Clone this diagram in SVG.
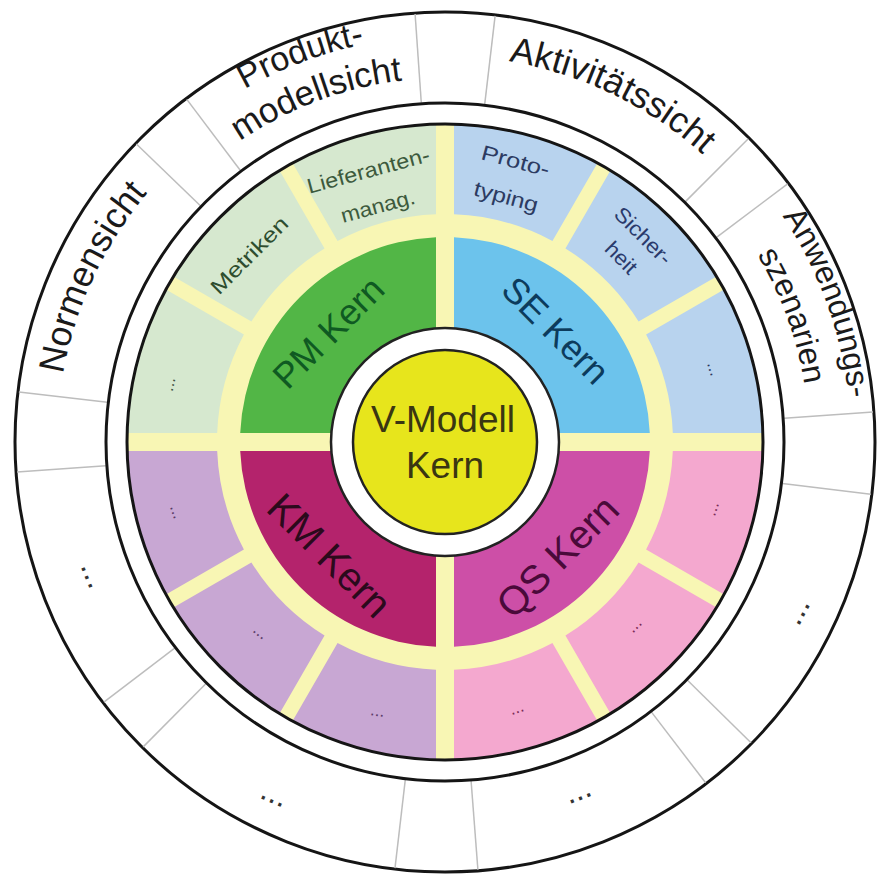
<svg xmlns="http://www.w3.org/2000/svg" width="888" height="877" viewBox="0 0 888 877">
<style>
.ring{fill:#fff;stroke:#151515;stroke-width:3}
.div{stroke:#bdbdbd;stroke-width:1.5;fill:none}
.lbl{font-family:"Liberation Sans",Arial,sans-serif;fill:#1a1a1a;text-anchor:middle}
.sm{font-family:"Liberation Sans",Arial,sans-serif;font-size:21px;text-anchor:middle}
.kern{font-family:"Liberation Sans",Arial,sans-serif;text-anchor:middle}
.dots{font-family:"Liberation Sans",Arial,sans-serif;text-anchor:middle}
.pmS{fill:#d6e8cf}.seS{fill:#b8d3ee}.kmS{fill:#c8a7d3}.qsS{fill:#f4a8cf}
</style>
<defs>
<path id="pNorm" d="M 62.9 509.4 A 388 388 0 0 1 251 106"/>
<path id="pProd1" d="M 110.8 212.3 A 405 405 0 0 1 546.4 49"/>
<path id="pProd2" d="M 144.9 235.9 A 364 364 0 0 1 536.2 89.6"/>
<path id="pAkt" d="M 382.6 61.1 A 386 386 0 0 1 781.6 253.1"/>
<path id="pAnw1" d="M 677.9 109.4 A 406 406 0 0 1 837.2 547.1"/>
<path id="pAnw2" d="M 653.8 143.8 A 364 364 0 0 1 796.6 536.2"/>
</defs>

<rect width="888" height="877" fill="#fff"/>

<g id="outer-ring">
<circle class="ring" cx="445" cy="442" r="430"/>
</g>

<g id="connectors">
<line class="div" x1="107.3" y1="402.3" x2="18.9" y2="391.9"/>
<line class="div" x1="200.4" y1="205.8" x2="136.4" y2="144"/>
<line class="div" x1="240.4" y1="170.5" x2="186.8" y2="99.4"/>
<line class="div" x1="421.3" y1="102.8" x2="415.1" y2="14"/>
<line class="div" x1="484.7" y1="104.3" x2="495.1" y2="15.9"/>
<line class="div" x1="685.4" y1="201.6" x2="748.3" y2="138.7"/>
<line class="div" x1="716.5" y1="237.4" x2="787.6" y2="183.8"/>
<line class="div" x1="784.2" y1="418.3" x2="873" y2="412.1"/>
<line class="div" x1="782.5" y1="483.4" x2="870.8" y2="494.3"/>
<line class="div" x1="687.5" y1="680.3" x2="751" y2="742.7"/>
<line class="div" x1="651.5" y1="712.1" x2="705.6" y2="782.8"/>
<line class="div" x1="471.1" y1="781" x2="477.9" y2="869.7"/>
<line class="div" x1="405.3" y1="779.7" x2="395" y2="868.1"/>
<line class="div" x1="205.8" y1="683.7" x2="143.2" y2="746.9"/>
<line class="div" x1="174.7" y1="648.2" x2="103.9" y2="702.2"/>
<line class="div" x1="105.8" y1="465.7" x2="17" y2="471.9"/>
</g>

<g id="inner-ring">
<circle class="ring" cx="445" cy="442" r="339"/>
<circle cx="445" cy="442" r="318" fill="#f8f6b4"/>
</g>

<g id="view-normensicht">
<text class="lbl" font-size="36"><textPath href="#pNorm" startOffset="50%">Normensicht</textPath></text>
</g>
<g id="view-produktmodellsicht">
<text class="lbl" font-size="34"><textPath href="#pProd1" startOffset="50%">Produkt-</textPath></text>
<text class="lbl" font-size="35"><textPath href="#pProd2" startOffset="50%">modellsicht</textPath></text>
</g>
<g id="view-aktivitaetssicht">
<text class="lbl" font-size="36"><textPath href="#pAkt" startOffset="50%">Aktivitätssicht</textPath></text>
</g>
<g id="view-anwendungsszenarien">
<text class="lbl" font-size="32"><textPath href="#pAnw1" startOffset="50%">Anwendungs-</textPath></text>
<text class="lbl" font-size="32"><textPath href="#pAnw2" startOffset="50%">szenarien</textPath></text>
</g>
<g id="view-more-1"><text class="dots" font-size="32" fill="#333" transform="translate(88 577) rotate(68)" dy="3">...</text></g>
<g id="view-more-2"><text class="dots" font-size="32" fill="#333" transform="translate(272 800) rotate(23)" dy="3">...</text></g>
<g id="view-more-3"><text class="dots" font-size="32" fill="#333" transform="translate(580 797) rotate(-21)" dy="3">...</text></g>
<g id="view-more-4"><text class="dots" font-size="32" fill="#333" transform="translate(802 614) rotate(-62)" dy="3">...</text></g>

<!-- Kern quadrants -->
<g id="pm-kern">
<path d="M 436 237.2 A 205 205 0 0 0 240.2 433 L 331.4 433 A 114 114 0 0 1 436 328.4 Z" fill="#52b646"/>
<text class="kern" font-size="36" fill="#0f5a22" transform="translate(328 332) rotate(-45)" dy="0.36em">PM Kern</text>
</g>
<g id="se-kern">
<path d="M 454 237.2 A 205 205 0 0 1 649.8 433 L 558.6 433 A 114 114 0 0 0 454 328.4 Z" fill="#6cc3ec"/>
<text class="kern" font-size="36" fill="#0c3b5c" transform="translate(556 330) rotate(45)" dy="0.36em">SE Kern</text>
</g>
<g id="km-kern">
<path d="M 240.2 451 A 205 205 0 0 0 436 646.8 L 436 555.6 A 114 114 0 0 1 331.4 451 Z" fill="#b4236c"/>
<text class="kern" font-size="40" fill="#2b0a1c" transform="translate(330 555) rotate(45)" dy="0.36em">KM Kern</text>
</g>
<g id="qs-kern">
<path d="M 454 646.8 A 205 205 0 0 0 649.8 451 L 558.6 451 A 114 114 0 0 1 454 555.6 Z" fill="#cd4fa7"/>
<text class="kern" font-size="40" fill="#4a0a3a" transform="translate(557 556) rotate(-45)" dy="0.36em">QS Kern</text>
</g>

<!-- outer segments SE -->
<g id="se-more">
<path class="seS" d="M 762.87 433 A 318 318 0 0 0 724.07 289.53 L 646.1 334.56 A 228 228 0 0 1 672.82 433 Z"/>
<text class="dots" font-size="17" fill="#2a3560" transform="translate(710 370) rotate(73)" dy="1">...</text>
</g>
<g id="se-sicherheit">
<path class="seS" d="M 716.58 276.55 A 318 318 0 0 0 610.45 170.42 L 565.43 248.4 A 228 228 0 0 1 638.6 321.57 Z"/>
<g transform="translate(632.5 246.5) rotate(45)" fill="#2a3a6c">
<text class="sm" y="-15.5" dy="0.36em" textLength="72" lengthAdjust="spacingAndGlyphs">Sicher-</text>
<text class="sm" y="15.5" dy="0.36em" textLength="36" lengthAdjust="spacingAndGlyphs">heit</text>
</g>
</g>
<g id="se-prototyping">
<path class="seS" d="M 597.47 162.93 A 318 318 0 0 0 454 124.13 L 454 214.18 A 228 228 0 0 1 552.44 240.9 Z"/>
<g transform="translate(511 178.5) rotate(15)" fill="#2c3b62">
<text class="sm" y="-18.5" dy="0.36em" textLength="70" lengthAdjust="spacingAndGlyphs">Proto-</text>
<text class="sm" y="18.5" dy="0.36em" textLength="66" lengthAdjust="spacingAndGlyphs">typing</text>
</g>
</g>

<!-- outer segments PM -->
<g id="pm-lieferantenmanagement">
<path class="pmS" d="M 436 124.13 A 318 318 0 0 0 292.53 162.93 L 337.56 240.9 A 228 228 0 0 1 436 214.18 Z"/>
<g transform="translate(373 188) rotate(-15)" fill="#3d5a3d">
<text class="sm" y="-18.5" dy="0.36em" textLength="126" lengthAdjust="spacingAndGlyphs">Lieferanten-</text>
<text class="sm" y="18.5" dy="0.36em" textLength="76" lengthAdjust="spacingAndGlyphs">manag.</text>
</g>
</g>
<g id="pm-metriken">
<path class="pmS" d="M 279.55 170.42 A 318 318 0 0 0 173.42 276.55 L 251.4 321.57 A 228 228 0 0 1 324.57 248.4 Z"/>
<text class="sm" font-size="19" fill="#2e4d2e" transform="translate(249 255) rotate(-45)" dy="0.36em" textLength="100" lengthAdjust="spacingAndGlyphs">Metriken</text>
</g>
<g id="pm-more">
<path class="pmS" d="M 165.93 289.53 A 318 318 0 0 0 127.13 433 L 217.18 433 A 228 228 0 0 1 243.9 334.56 Z"/>
<text class="dots" font-size="17" fill="#3d5040" transform="translate(173 385) rotate(-78)" dy="1">...</text>
</g>

<!-- outer segments KM -->
<g id="km-more-1">
<path class="kmS" d="M 127.13 451 A 318 318 0 0 0 165.93 594.47 L 243.9 549.44 A 228 228 0 0 1 217.18 451 Z"/>
<text class="dots" font-size="17" fill="#5a3a66" transform="translate(173 513) rotate(70)" dy="1">...</text>
</g>
<g id="km-more-2">
<path class="kmS" d="M 173.42 607.45 A 318 318 0 0 0 279.55 713.58 L 324.57 635.6 A 228 228 0 0 1 251.4 562.43 Z"/>
<text class="dots" font-size="17" fill="#5a3a66" transform="translate(258 635) rotate(40)" dy="1">...</text>
</g>
<g id="km-more-3">
<path class="kmS" d="M 292.53 721.07 A 318 318 0 0 0 436 759.87 L 436 669.82 A 228 228 0 0 1 337.56 643.1 Z"/>
<text class="dots" font-size="17" fill="#5a3a66" transform="translate(377 715) rotate(8)" dy="1">...</text>
</g>

<!-- outer segments QS -->
<g id="qs-more-1">
<path class="qsS" d="M 454 759.87 A 318 318 0 0 0 597.47 721.07 L 552.44 643.1 A 228 228 0 0 1 454 669.82 Z"/>
<text class="dots" font-size="17" fill="#7a2a55" transform="translate(518 712) rotate(-18)" dy="1">...</text>
</g>
<g id="qs-more-2">
<path class="qsS" d="M 610.45 713.58 A 318 318 0 0 0 716.58 607.45 L 638.6 562.43 A 228 228 0 0 1 565.43 635.6 Z"/>
<text class="dots" font-size="17" fill="#7a2a55" transform="translate(637 628) rotate(-45)" dy="1">...</text>
</g>
<g id="qs-more-3">
<path class="qsS" d="M 724.07 594.47 A 318 318 0 0 0 762.87 451 L 672.82 451 A 228 228 0 0 1 646.1 549.44 Z"/>
<text class="dots" font-size="17" fill="#7a2a55" transform="translate(716 510) rotate(-72)" dy="1">...</text>
</g>

<g id="band-outline">
<circle cx="445" cy="442" r="318" fill="none" stroke="#151515" stroke-width="3"/>
</g>

<g id="v-modell-kern">
<circle cx="445" cy="442" r="114" fill="#fff" stroke="#222" stroke-width="2.5"/>
<circle cx="445" cy="442" r="92" fill="#e7e51c" stroke="#222" stroke-width="2.5"/>
<text class="kern" font-size="37" fill="#3a3612" x="443" y="432">V-Modell</text>
<text class="kern" font-size="37" fill="#3a3612" x="445" y="478">Kern</text>
</g>
</svg>
